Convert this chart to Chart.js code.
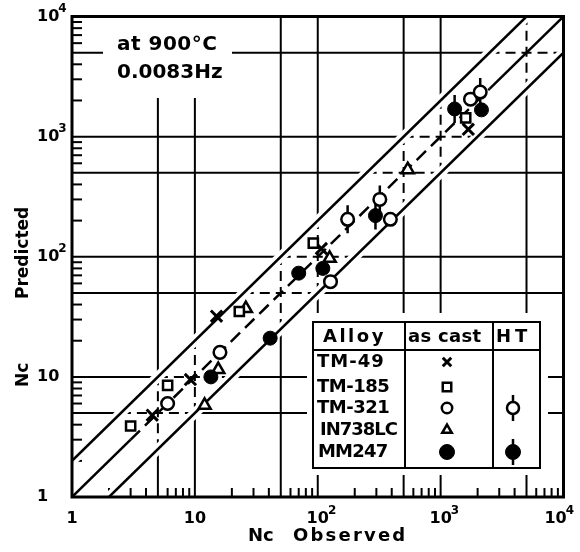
<!DOCTYPE html>
<html><head><meta charset="utf-8">
<script src="https://cdn.jsdelivr.net/npm/chart.js@4.4.0/dist/chart.umd.min.js"></script>
<style>html,body{margin:0;padding:0;background:#fff}canvas{display:block}</style>
</head><body>
<canvas id="c" width="580" height="552"></canvas>
<script>
// ---- data (Nc observed, Nc predicted) ----
const tm49    = [[4.5,4.8],[9.2,9.5],[15,32],[107,117],[1680,1150]];
const tm185   = [[3,3.9],[6,8.5],[23,35],[92,130],[1600,1430]];
const tm321   = [[6,6],[16,16],[127,62],[390,205],[1750,2050]];
const tm321HT = [[175,205],[320,300],[2100,2350]];
const in738   = [[12,5.8],[15.5,11.5],[26,37],[125,97],[540,530]];
const mm247   = [[13.5,10],[41,21],[70,73],[110,80],[2150,1670]];
const mm247HT = [[295,220],[1300,1700]];
// reference lines: y = x, y = 2x, y = x/2
const lineEqual = [[1,1],[3,3],[2500,2500],[10000,10000]];
const lineUpper = [[1,2],[5000,10000]];
const lineLower = [[2,1],[10000,5000]];
// axes
const tickValues = [1,10,100,1000,10000];
const tickBase   = ['1','10','10','10','10'];
const tickExp    = ['','','2','3','4'];
const gridValues = [5,10,50,100,500,1000,5000];
const xTitle = ['Nc','Observed'];
const yTitle = ['Nc','Predicted'];
const noteLines = ['at 900°C','0.0083Hz'];
const legendHeader = ['Alloy','as cast','HT'];
const legendRows = ['TM-49','TM-185','TM-321','IN738LC','MM247'];

const FONT = '"DejaVu Sans", sans-serif';
const pts = a => a.map(([x,y]) => ({x,y}));

const styles = {
  x:   {pointStyle:'crossRot', radius:8, borderWidth:3, fill:'#000'},
  sq:  {pointStyle:'rect', radius:6.5, borderWidth:2.5, fill:'#fff'},
  ci:  {pointStyle:'circle', radius:6.3, borderWidth:2.5, fill:'#fff'},
  tri: {pointStyle:'triangle', radius:7, borderWidth:2.5, fill:'#fff'},
  fc:  {pointStyle:'circle', radius:7, borderWidth:1, fill:'#000'},
  bar: {pointStyle:'line', radius:14, borderWidth:2.5, rotation:90, fill:'#000'}
};
function ds(label, data, st){
  return {label, data: pts(data), showLine:false, pointStyle: st.pointStyle, pointRadius: st.radius,
    pointHoverRadius: st.radius, pointBorderWidth: st.borderWidth, pointRotation: st.rotation||0,
    pointBackgroundColor: st.fill, pointBorderColor:'#000'};
}
function ln(label, data, color, width, extra){
  return Object.assign({label, data: pts(data), showLine:true, pointRadius:0, borderColor:color,
    borderWidth:width, fill:false, tension:0, clip:0}, extra||{});
}

function drawSym(ctx, st, x, y, r){
  ctx.save();
  ctx.fillStyle = st.fill; ctx.strokeStyle = '#000'; ctx.lineWidth = st.borderWidth;
  ctx.setLineDash([]);
  Chart.helpers.drawPoint(ctx, {pointStyle: st.pointStyle, radius: r, rotation: st.rotation||0, borderWidth: st.borderWidth}, x, y);
  ctx.restore();
}

const decor = {
  id:'decor',
  beforeDatasetsDraw(chart){
    const {ctx, chartArea:a, scales:{x, y}} = chart;
    ctx.save();
    ctx.strokeStyle = '#000'; ctx.lineWidth = 2;
    const seg = (x1,y1,x2,y2,dash) => { ctx.setLineDash(dash ? [10,6] : []); ctx.beginPath(); ctx.moveTo(x1,y1); ctx.lineTo(x2,y2); ctx.stroke(); };
    gridValues.forEach(v => {
      const px = x.getPixelForValue(v);
      const y1 = y.getPixelForValue(Math.max(v/2,1)), y2 = y.getPixelForValue(Math.min(v*2,10000));
      seg(px, a.bottom, px, y1, false); seg(px, y1, px, y2, true); if (y2 > a.top) seg(px, y2, px, a.top, false);
      const py = y.getPixelForValue(v);
      const x1 = x.getPixelForValue(Math.max(v/2,1)), x2 = x.getPixelForValue(Math.min(v*2,10000));
      seg(a.left, py, x1, py, false); seg(x1, py, x2, py, true); if (x2 < a.right) seg(x2, py, a.right, py, false);
    });
    for (let d = 1; d < 10000; d *= 10) {
      for (let m = 2; m <= 9; m++) {
        if (m === 5) continue;
        const px = x.getPixelForValue(m*d); seg(px, a.bottom, px, a.bottom - 9, false);
        const py = y.getPixelForValue(m*d); seg(a.left, py, a.left + 10, py, false);
      }
    }
    ctx.restore();
  },
  afterDraw(chart){
    const {ctx, chartArea:a, scales:{x, y}} = chart;
    ctx.save();
    ctx.setLineDash([]);
    // note box
    ctx.fillStyle = '#fff'; ctx.fillRect(103, 16, 129, 82);
    ctx.fillStyle = '#000'; ctx.font = 'bold 20px ' + FONT; ctx.textBaseline = 'middle'; ctx.textAlign = 'left';
    ctx.letterSpacing = '0.5px'; ctx.fillText(noteLines[0], 117, 45);
    ctx.letterSpacing = '0px'; ctx.fillText(noteLines[1], 117, 73);
    // legend table
    ctx.fillStyle = '#fff'; ctx.fillRect(307, 313, 241, 162);
    ctx.strokeStyle = '#000'; ctx.lineWidth = 2;
    ctx.strokeRect(313, 322, 227, 146);
    ctx.beginPath();
    ctx.moveTo(313, 350); ctx.lineTo(540, 350);
    ctx.moveTo(405, 322); ctx.lineTo(405, 468);
    ctx.moveTo(493, 322); ctx.lineTo(493, 468);
    ctx.stroke();
    ctx.fillStyle = '#000'; ctx.font = 'bold 18px ' + FONT; ctx.textBaseline = 'middle';
    ctx.letterSpacing = '2.5px'; ctx.fillText(legendHeader[0], 323, 337);
    ctx.letterSpacing = '0.3px'; ctx.fillText(legendHeader[1], 408, 337);
    ctx.letterSpacing = '4px'; ctx.fillText(legendHeader[2], 496, 337);
    const rowY = [362, 387, 408, 430, 452];
    const rowX = [317, 317, 317, 320, 318];
    const rowSp = ['1px','-0.5px','-0.5px','-1px','-0.8px'];
    legendRows.forEach((t,i) => { ctx.letterSpacing = rowSp[i]; ctx.fillText(t, rowX[i], rowY[i]); });
    ctx.letterSpacing = '0px';
    drawSym(ctx, styles.x, 447, rowY[0], 6);
    drawSym(ctx, styles.sq, 447, rowY[1], 6);
    drawSym(ctx, styles.ci, 447, rowY[2], 5.2);
    drawSym(ctx, styles.tri, 447, rowY[3], 5.5);
    drawSym(ctx, styles.fc, 447, rowY[4], 7.5);
    drawSym(ctx, styles.bar, 513, rowY[2], 13);
    drawSym(ctx, styles.ci, 513, rowY[2], 6);
    drawSym(ctx, styles.bar, 513, rowY[4], 13);
    drawSym(ctx, styles.fc, 513, rowY[4], 7.5);
    // frame
    ctx.strokeStyle = '#000'; ctx.lineWidth = 3;
    ctx.strokeRect(a.left, a.top, a.right - a.left, a.bottom - a.top);
    // tick labels
    ctx.fillStyle = '#000'; ctx.textBaseline = 'middle';
    const BF = 'bold 16px ' + FONT, EF = 'bold 12px ' + FONT;
    tickValues.forEach((v,i) => {
      ctx.font = BF;
      const wb = ctx.measureText(tickBase[i]).width;
      ctx.font = EF;
      const we = tickExp[i] ? ctx.measureText(tickExp[i]).width : 0;
      // x axis
      let cx = x.getPixelForValue(v);
      const right = cx + wb/2 + we - 1;
      if (right > 574) cx -= right - 574;
      ctx.font = BF; ctx.textAlign = 'center';
      ctx.fillText(tickBase[i], cx, 519);
      if (tickExp[i]) { ctx.font = EF; ctx.textAlign = 'left'; ctx.fillText(tickExp[i], cx + wb/2 - 1, 511); }
      // y axis
      const py = y.getPixelForValue(v);
      ctx.font = BF; ctx.textAlign = 'left';
      ctx.fillText(tickBase[i], 37, py);
      if (tickExp[i]) { ctx.font = EF; ctx.fillText(tickExp[i], 37 + wb - 1, py - 8); }
    });
    // axis titles
    ctx.font = 'bold 18px ' + FONT; ctx.textAlign = 'left'; ctx.textBaseline = 'middle';
    ctx.letterSpacing = '0px';
    ctx.fillText(xTitle[0], 248, 536);
    ctx.letterSpacing = '2.2px';
    ctx.fillText(xTitle[1], 293, 536);
    ctx.font = 'bold 17px ' + FONT; ctx.letterSpacing = '0px';
    ctx.save(); ctx.translate(24, 387); ctx.rotate(-Math.PI/2); ctx.fillText(yTitle[0], 0, 0); ctx.restore();
    ctx.save(); ctx.translate(24, 299); ctx.rotate(-Math.PI/2); ctx.fillText(yTitle[1], 0, 0); ctx.restore();
    ctx.restore();
  }
};

new Chart(document.getElementById('c'), {
  type:'scatter',
  data:{ datasets:[
    ds('TM-185', tm185, styles.sq),
    ds('TM-321 HT', tm321HT, styles.ci),
    ds('MM247 HT', mm247HT, styles.fc),
    ds('TM-321 HT bar', tm321HT, styles.bar),
    ds('MM247 HT bar', mm247HT, styles.bar),
    ds('TM-321', tm321, styles.ci),
    ds('MM247', mm247, styles.fc),
    ds('IN738LC', in738, styles.tri),
    ds('TM-49', tm49, styles.x),
    ln('y=x', lineEqual, '#000', 2.5, {segment:{borderDash: c => c.p0DataIndex === 1 ? [13,7] : undefined}}),
    ln('y=2x', lineUpper, '#000', 2.5),
    ln('y=x/2', lineLower, '#000', 2.5),
    ln('halo1', lineUpper, '#fff', 10),
    ln('halo2', lineLower, '#fff', 10)
  ]},
  options:{
    responsive:false, animation:false, devicePixelRatio:1, events:[],
    layout:{padding:{left:72, right:13, top:14, bottom:55}},
    scales:{
      x:{type:'logarithmic', min:1, max:10000, display:false},
      y:{type:'logarithmic', min:1, max:10000, display:false}
    },
    plugins:{legend:{display:false}, tooltip:{enabled:false}}
  },
  plugins:[decor]
});
</script>
</body></html>
